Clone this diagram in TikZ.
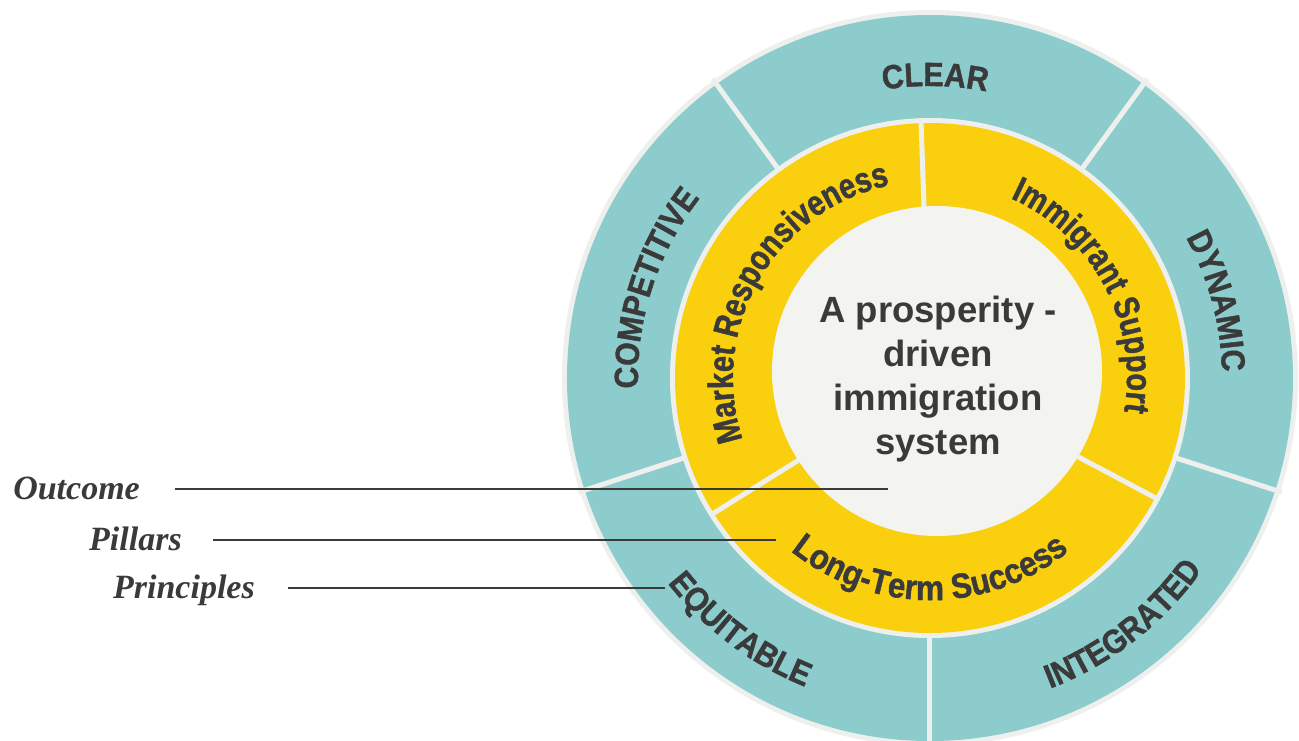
\documentclass[tikz,border=0pt]{standalone}
\usepackage{fontspec}
\setmainfont{Liberation Serif}
\newfontfamily\bandfont[FakeStretch=0.82, FakeBold=1.2]{Liberation Sans}
\newfontfamily\widebandfont[FakeStretch=0.9, FakeBold=1.2]{Liberation Sans}
\newfontfamily\hubfont{Liberation Sans}
\usetikzlibrary{decorations.text}

\definecolor{tealband}{HTML}{8CCCCD}
\definecolor{sunband}{HTML}{FACF0E}
\definecolor{hubfill}{HTML}{F3F3EF}
\definecolor{rimgray}{HTML}{EEF0EE}
\definecolor{ink}{HTML}{3A3A3A}

\newcommand\principlefmt{\widebandfont\bfseries\fontsize{33.5}{33.5}\selectfont\color{ink}}
\newcommand\pillarfmt{\bandfont\bfseries\fontsize{35.5}{35.5}\selectfont\color{ink}}
\newcommand\basefmt{\widebandfont\bfseries\fontsize{35}{35}\selectfont\color{ink}}

\begin{document}
\begin{tikzpicture}[
  x=1pt,
  y=1pt,
  sep/.style={draw=rimgray, line width=5pt},
  band/.style={decorate, decoration={text along path, text align=center, text={#1}}},
  hub/.style={align=center, text=ink, font=\hubfont\bfseries\fontsize{36.5}{44}\selectfont},
  tag/.style={anchor=base east, inner sep=0pt, text=ink,
    font=\bfseries\itshape\fontsize{34}{34}\selectfont},
  leader/.style={draw=ink, line width=1.6pt}
]
\useasboundingbox (-930,-362) rectangle (369,378);
% rings, outside in
\fill[rimgray] (0,0) circle[radius=368];
\fill[tealband] (0,0) circle[radius=363];
\fill[rimgray] (0,0) circle[radius=260];
\fill[sunband] (0,0) circle[radius=255];
% principle separators
\draw[sep] (54:258) -- (54:370);
\draw[sep] (126:258) -- (126:370);
\draw[sep] (198:258) -- (198:370);
\draw[sep] (270:258) -- (270:370);
\draw[sep] (342:258) -- (342:370);
% pillar separators
\draw[sep] (92:150) -- (92:258);
\draw[sep] (212:150) -- (212:258);
\draw[sep] (332:150) -- (332:258);
\fill[hubfill] (7,7) circle[radius=165];
\node[hub] (hub) at (8,-1) {A prosperity -\\driven\\immigration\\system};

% pillars
\path[band={|\pillarfmt|Market Responsiveness}] (210:197) arc[start angle=210, end angle=90, radius=197];
\path[band={|\pillarfmt|Immigrant Support}] (88:197) arc[start angle=88, end angle=-32, radius=197];
\path[band={|\basefmt|Long-Term Success}] (210:222) arc[start angle=210, end angle=330, radius=222];

% principles
\path[band={|\principlefmt|CLEAR}] (125:292) arc[start angle=125, end angle=53, radius=292];
\path[band={|\principlefmt|COMPETITIVE}] (198:292) arc[start angle=198, end angle=126, radius=292];
\path[band={|\principlefmt|DYNAMIC}] (51:292) arc[start angle=51, end angle=-21, radius=292];
\path[band={|\principlefmt|EQUITABLE}] (197:333) arc[start angle=197, end angle=269, radius=333];
\path[band={|\principlefmt|INTEGRATED}] (272:333) arc[start angle=272, end angle=344, radius=333];

% legend on the left
\node[tag] (outcome) at (-790,-121) {Outcome};
\node[tag] (pillars) at (-748,-172) {Pillars};
\node[tag] (principles) at (-675,-220) {Principles};
\coordinate (outcomeEnd) at (-42,-111);
\coordinate (pillarsEnd) at (-154,-162);
\coordinate (principlesEnd) at (-265,-210);
\draw[leader] (outcome.east |- outcomeEnd) ++(35,0) -- (outcomeEnd);
\draw[leader] (pillars.east |- pillarsEnd) ++(31,0) -- (pillarsEnd);
\draw[leader] (principles.east |- principlesEnd) ++(33,0) -- (principlesEnd);
\end{tikzpicture}
\end{document}
